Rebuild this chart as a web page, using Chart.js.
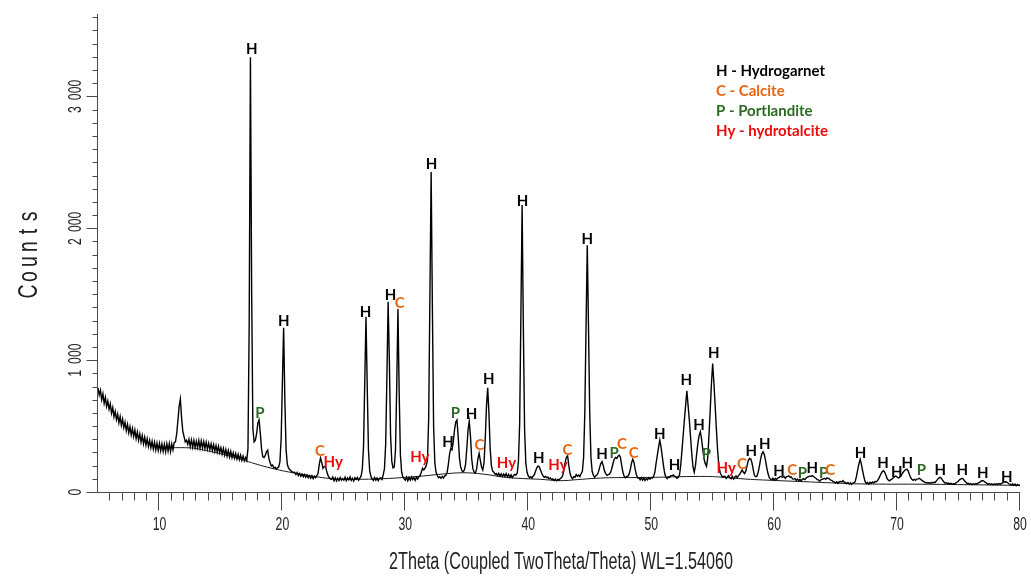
<!DOCTYPE html>
<html>
<head>
<meta charset="utf-8">
<title>XRD pattern</title>
<script src="https://cdn.jsdelivr.net/npm/chart.js@4.4.0/dist/chart.umd.min.js"></script>
<style>
  html, body { margin: 0; padding: 0; background: #fff; }
  #xrdChart { display: block; }
</style>
</head>
<body>
<canvas id="xrdChart" width="1031" height="578"></canvas>
<script>
// scan: 2Theta from 5.0 to 80.0 in 0.1 steps, one row per degree
var scanStart = 5.0;
var scanStep = 0.1;
var counts = [
    790, 735, 772, 700, 745, 672, 718, 650, 690, 628,   // 5
    668, 598, 640, 570, 612, 548, 590, 525, 572, 505,   // 6
    552, 488, 530, 465, 512, 448, 496, 432, 482, 420,   // 7
    470, 405, 455, 392, 440, 378, 428, 365, 415, 355,   // 8
    404, 345, 392, 335, 384, 325, 376, 318, 370, 314,   // 9
    368, 312, 365, 308, 362, 305, 366, 310, 368, 306,   // 10
    365, 320, 375, 380, 440, 540, 650, 705, 560, 460,   // 11
    420, 380, 392, 362, 400, 345, 395, 340, 392, 338,   // 12
    385, 336, 390, 332, 388, 335, 382, 330, 378, 325,   // 13
    370, 322, 365, 316, 360, 308, 352, 302, 346, 298,   // 14
    336, 288, 330, 280, 322, 272, 315, 266, 308, 260,   // 15
    298, 256, 292, 250, 286, 245, 280, 240, 272, 236,   // 16
    262, 240, 330, 1300, 3297, 1500, 480, 380, 392, 440, // 17
    520, 546, 450, 330, 268, 262, 275, 305, 318, 255,   // 18
    222, 198, 204, 182, 188, 174, 184, 190, 230, 410,   // 19
    835, 1245, 700, 320, 210, 182, 168, 160, 152, 148,  // 20
    150, 132, 148, 124, 140, 120, 136, 116, 132, 112,   // 21
    130, 108, 124, 104, 122, 102, 120, 108, 124, 140,   // 22
    210, 258, 225, 180, 192, 197, 160, 128, 110, 100,   // 23
    96, 114, 86, 108, 84, 104, 86, 110, 90, 102,        // 24
    90, 112, 86, 106, 92, 114, 88, 104, 84, 108,        // 25
    96, 110, 90, 106, 120, 174, 346, 838, 1329, 800,    // 26
    320, 160, 120, 98, 88, 110, 90, 106, 86, 104,       // 27
    108, 96, 130, 175, 360, 860, 1443, 1000, 430, 230,  // 28
    182, 190, 320, 800, 1387, 750, 280, 150, 115, 100,  // 29
    90, 112, 86, 110, 90, 114, 94, 110, 88, 112,        // 30
    98, 116, 125, 150, 180, 168, 180, 200, 240, 560,    // 31
    1500, 2426, 1400, 500, 220, 150, 125, 108, 116, 104, // 32
    118, 106, 122, 126, 150, 210, 290, 333, 320, 380,   // 33
    470, 530, 546, 420, 260, 190, 162, 154, 165, 210,   // 34
    330, 470, 535, 420, 250, 175, 150, 144, 175, 250,   // 35
    293, 240, 190, 167, 220, 400, 650, 790, 600, 330,   // 36
    200, 160, 150, 134, 140, 124, 142, 120, 138, 118,   // 37
    136, 118, 140, 116, 134, 112, 130, 110, 124, 134,   // 38
    128, 142, 230, 520, 1340, 2176, 1250, 480, 220, 150, // 39
    122, 108, 116, 106, 122, 132, 160, 185, 197, 190,   // 40
    165, 140, 122, 112, 118, 108, 112, 100, 106, 94,    // 41
    100, 88, 98, 84, 96, 90, 102, 108, 125, 165,        // 42
    225, 262, 273, 200, 140, 112, 100, 116, 112, 132,   // 43
    120, 128, 116, 140, 155, 260, 600, 1250, 1872, 1250, // 44
    600, 260, 155, 125, 112, 124, 130, 150, 185, 215,   // 45
    230, 200, 160, 140, 126, 132, 136, 150, 180, 220,   // 46
    250, 262, 255, 272, 280, 262, 200, 150, 120, 108,   // 47
    116, 120, 135, 170, 220, 248, 225, 170, 130, 106,   // 48
    108, 92, 108, 90, 104, 88, 102, 92, 108, 98,        // 49
    110, 106, 120, 150, 220, 280, 340, 394, 340, 270,   // 50
    200, 140, 112, 102, 114, 112, 124, 126, 129, 120,   // 51
    114, 104, 112, 129, 201, 312, 429, 546, 657, 768,   // 52
    657, 546, 420, 290, 190, 150, 200, 290, 370, 430,   // 53
    457, 400, 320, 250, 215, 195, 260, 430, 620, 820,   // 54
    975, 830, 660, 480, 320, 200, 150, 129, 112, 120,   // 55
    118, 102, 116, 124, 106, 100, 118, 98, 112, 122,    // 56
    108, 124, 135, 150, 167, 150, 140, 160, 200, 240,   // 57
    255, 250, 220, 170, 125, 116, 120, 150, 195, 250,   // 58
    290, 305, 285, 240, 185, 140, 110, 98, 92, 104,     // 59
    90, 104, 94, 108, 110, 118, 116, 112, 118, 104,     // 60
    116, 118, 122, 112, 114, 100, 98, 102, 88, 98,      // 61
    86, 96, 84, 98, 100, 94, 106, 112, 116, 120,        // 62
    118, 124, 118, 110, 104, 94, 92, 82, 92, 96,        // 63
    100, 104, 96, 108, 104, 100, 90, 88, 78, 76,        // 64
    68, 78, 66, 78, 80, 76, 86, 74, 72, 62,             // 65
    72, 60, 70, 58, 68, 70, 80, 120, 170, 215,          // 66
    248, 210, 160, 115, 80, 64, 72, 60, 74, 66,         // 67
    76, 68, 80, 78, 86, 100, 120, 140, 155, 162,        // 68
    150, 125, 100, 90, 84, 94, 100, 108, 116, 121,      // 69
    114, 106, 110, 120, 135, 150, 162, 170, 172, 160,   // 70
    135, 110, 96, 88, 96, 88, 98, 100, 104, 98,         // 71
    90, 82, 78, 70, 72, 68, 70, 66, 72, 70,             // 72
    74, 72, 84, 96, 106, 111, 104, 90, 78, 68,          // 73
    70, 64, 68, 60, 66, 58, 64, 60, 70, 76,             // 74
    84, 94, 100, 104, 96, 84, 74, 64, 66, 58,           // 75
    64, 56, 62, 57, 64, 60, 68, 72, 80, 85,             // 76
    86, 80, 72, 66, 58, 64, 56, 62, 54, 62,             // 77
    56, 62, 58, 64, 60, 66, 70, 75, 78, 76,             // 78
    70, 62, 60, 52, 62, 50, 60, 48, 58, 50,             // 79
    53                                                  // 80
];

// fitted background curve [2Theta, counts]
var background = [
    [10.8, 336], [12.6, 334], [13.5, 320], [14.5, 300], [15.5, 278], [16.5, 252],
    [17.5, 222], [18.5, 195], [19.5, 172], [20.5, 152], [21.5, 136], [22.5, 120],
    [23.5, 106], [24.5, 97], [26, 96], [28, 100], [30, 111], [31.5, 122], [33, 136],
    [34.7, 146], [36.3, 136], [38.2, 111], [40, 100], [41, 96], [42.6, 86], [44, 94],
    [45.5, 104], [47, 109], [49.6, 110], [52.3, 116], [54.5, 118], [55.5, 114],
    [57.7, 98], [60.4, 86], [62.5, 78], [64.2, 71], [66, 64], [68, 60], [72, 59],
    [76, 55], [80, 50]
];

// phase labels [2Theta, counts (label centre), text]
var peakLabels = [
    [17.5, 3356, 'H'], [18.17, 597, 'P'], [20.12, 1296, 'H'], [23.05, 311, 'C'], [24.13, 230, 'Hy'],
    [26.76, 1367, 'H'], [28.8, 1493, 'H'], [29.55, 1430, 'C'], [31.18, 268, 'Hy'], [32.13, 2486, 'H'],
    [33.48, 381, 'H'], [34.08, 601, 'P'], [35.38, 591, 'H'], [36.03, 356, 'C'], [36.79, 854, 'H'],
    [38.23, 217, 'Hy'], [39.53, 2206, 'H'], [40.85, 255, 'H'], [42.42, 205, 'Hy'], [43.19, 318, 'C'],
    [44.81, 1918, 'H'], [46.0, 288, 'H'], [46.98, 298, 'P'], [47.63, 364, 'C'], [48.58, 298, 'C'],
    [50.69, 440, 'H'], [51.9, 205, 'H'], [52.86, 849, 'H'], [53.89, 508, 'H'], [54.49, 288, 'P'],
    [55.1, 1051, 'H'], [56.1, 180, 'Hy'], [57.38, 212, 'C'], [58.14, 313, 'H'], [59.23, 362, 'H'],
    [60.39, 159, 'H'], [61.48, 167, 'C'], [62.29, 146, 'P'], [63.1, 184, 'H'], [64.02, 142, 'P'],
    [64.57, 162, 'C'], [67.03, 298, 'H'], [68.85, 217, 'H'], [69.98, 154, 'H'], [70.83, 222, 'H'],
    [71.97, 167, 'P'], [73.51, 167, 'H'], [75.3, 162, 'H'], [76.98, 142, 'H'], [78.93, 116, 'H']
];

var phaseColors = { 'H': '#000000', 'C': '#E8650F', 'P': '#2B6A22', 'Hy': '#EC0A0A' };
var legendItems = [
    ['H', 'H - Hydrogarnet'],
    ['C', 'C - Calcite'],
    ['P', 'P - Portlandite'],
    ['Hy', 'Hy - hydrotalcite']
];

var xMajorTicks = [10, 20, 30, 40, 50, 60, 70, 80];
var yMajorTicks = [0, 1000, 2000, 3000];
var yTickLabels = ['0', '1\u2002000', '2\u2002000', '3\u2002000'];
var xTitle = '2Theta (Coupled TwoTheta/Theta) WL=1.54060';
var yTitle = 'Counts';

var scanPoints = counts.map(function(c, i) {
    return { x: +(scanStart + i * scanStep).toFixed(1), y: c };
});
var backgroundPoints = background.map(function(p) { return { x: p[0], y: p[1] }; });

var axisColor = '#4a4a4a';
var textColor = '#222222';

function condensedText(ctx, text, x, y, font, sx, rot) {
    ctx.save();
    ctx.font = font;
    ctx.translate(x, y);
    if (rot) ctx.rotate(rot);
    ctx.scale(sx, 1);
    ctx.fillText(text, 0, 0);
    ctx.restore();
}

var xrdDecor = {
    id: 'xrdDecor',
    afterDraw: function(chart) {
        var ctx = chart.ctx;
        var xs = chart.scales.x;
        var ys = chart.scales.y;
        var area = chart.chartArea;
        var x0 = Math.round(area.left) - 0.5;
        var y0 = Math.round(ys.getPixelForValue(0)) + 0.5;

        ctx.save();
        ctx.strokeStyle = axisColor;
        ctx.lineWidth = 1;

        // axis lines
        ctx.beginPath();
        ctx.moveTo(x0, area.top);
        ctx.lineTo(x0, y0);
        ctx.lineTo(area.right, y0);
        ctx.stroke();

        // x ticks: minor every 1, major every 10
        ctx.beginPath();
        for (var t = 6; t <= 80; t++) {
            var px = Math.round(xs.getPixelForValue(t)) - 0.5;
            var len = (t % 10 === 0) ? 18 : 8;
            ctx.moveTo(px, y0);
            ctx.lineTo(px, y0 + len);
        }
        // y ticks: minor every 100, major every 1000
        for (var v = 0; v <= 3600; v += 100) {
            var py = Math.round(ys.getPixelForValue(v)) + 0.5;
            var ylen = (v % 1000 === 0) ? 11 : 5;
            ctx.moveTo(x0, py);
            ctx.lineTo(x0 - ylen, py);
        }
        ctx.stroke();

        // tick labels
        ctx.fillStyle = textColor;
        ctx.textAlign = 'center';
        ctx.textBaseline = 'middle';
        xMajorTicks.forEach(function(t) {
            condensedText(ctx, String(t), xs.getPixelForValue(t), 525, '18px "Liberation Sans", Arial, sans-serif', 0.68);
        });
        yMajorTicks.forEach(function(v, i) {
            condensedText(ctx, yTickLabels[i], 76, ys.getPixelForValue(v), '18px "Liberation Sans", Arial, sans-serif', 0.68, -Math.PI / 2);
        });

        // axis titles
        ctx.font = '23px "Liberation Sans", Arial, sans-serif';
        var tw = ctx.measureText(xTitle).width;
        condensedText(ctx, xTitle, 561, 563, ctx.font, 344 / tw);

        ctx.save();
        ctx.translate(30, 254);
        ctx.rotate(-Math.PI / 2);
        ctx.font = '27px "Liberation Sans", Arial, sans-serif';
        var chars = yTitle.split('');
        var step = 15;
        var startX = -step * (chars.length - 1) / 2;
        chars.forEach(function(ch, i) {
            ctx.save();
            ctx.translate(startX + i * step, 0);
            ctx.scale(0.72, 1);
            ctx.fillText(ch, 0, 0);
            ctx.restore();
        });
        ctx.restore();

        // phase labels above peaks
        ctx.font = 'bold 15px Lato, "Open Sans", sans-serif';
        peakLabels.forEach(function(lb) {
            ctx.fillStyle = phaseColors[lb[2]];
            ctx.fillText(lb[2], xs.getPixelForValue(lb[0]), ys.getPixelForValue(lb[1]));
        });

        // legend
        ctx.textAlign = 'left';
        ctx.font = 'bold 15px Lato, "Open Sans", sans-serif';
        legendItems.forEach(function(item, i) {
            ctx.fillStyle = phaseColors[item[0]];
            ctx.fillText(item[1], 716, 71 + i * 20);
        });
        ctx.restore();
    }
};

var ctx = document.getElementById('xrdChart').getContext('2d');
var xrdChart = new Chart(ctx, {
    type: 'line',
    data: {
        datasets: [
            {
                label: 'Scan',
                data: scanPoints,
                borderColor: '#000000',
                borderWidth: 1.4,
                pointRadius: 0,
                tension: 0
            },
            {
                label: 'Background',
                data: backgroundPoints,
                borderColor: '#1a1a1a',
                borderWidth: 1,
                pointRadius: 0,
                tension: 0.4
            }
        ]
    },
    options: {
        responsive: false,
        animation: false,
        layout: { padding: { left: 98, right: 11, top: 14, bottom: 86 } },
        scales: {
            x: { type: 'linear', min: 5, max: 80, display: false },
            y: { min: 0, max: 3625, display: false }
        },
        plugins: {
            legend: { display: false },
            tooltip: { enabled: false }
        }
    },
    plugins: [xrdDecor]
});
</script>
</body>
</html>
